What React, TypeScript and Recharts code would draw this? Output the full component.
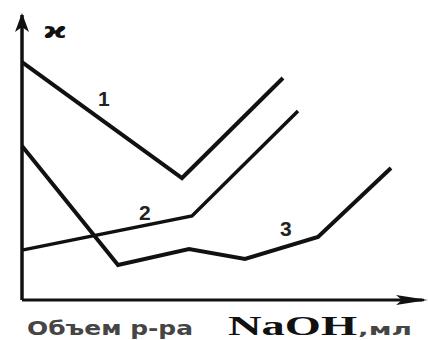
import { LineChart, Line, XAxis, YAxis, ReferenceLine, Customized } from 'recharts'

// Conductometric titration curves: conductivity vs. volume of NaOH added

const curve1X = [0, 40, 65.25]
const curve1Y = [83.5, 42.8, 77.9]

const curve2X = [0, 42.5, 69]
const curve2Y = [17.5, 29.5, 66.3]

const curve3X = [0, 24, 41.75, 55.75, 74, 92.25]
const curve3Y = [54, 12.3, 17.9, 14.4, 22.1, 46.3]

const curveLabels = ['1', '2', '3']

const toPoints = (xs: number[], ys: number[]) => xs.map((x, i) => ({ x, y: ys[i] }))

const INK = '#111'

function Annotations() {
  return (
    <g>
      {/* arrowheads on the axes */}
      <path d="M22,13 L15,32 L22,27 L29,32 Z" fill={INK} />
      <line x1={420} y1={300} x2={424} y2={300} stroke={INK} strokeWidth={2.5} />
      <path d="M428,300 L396,295 L402,300 L396,305 Z" fill={INK} />
      <text x={43} y={38} fontSize={22} fontFamily="DejaVu Sans" fontWeight="bold" fill={INK} textLength={24} lengthAdjust="spacingAndGlyphs">ϰ</text>
      <text x={98} y={106} fontSize={21} fontFamily="Liberation Sans" fontWeight="bold" fill="#222">{curveLabels[0]}</text>
      <text x={139} y={220} fontSize={21} fontFamily="Liberation Sans" fontWeight="bold" fill="#222">{curveLabels[1]}</text>
      <text x={280} y={236} fontSize={21} fontFamily="Liberation Sans" fontWeight="bold" fill="#222">{curveLabels[2]}</text>
      <text x={27} y={335} fontSize={19} fontFamily="DejaVu Sans" fontWeight="bold" fill="#454545" textLength={166} lengthAdjust="spacingAndGlyphs">Объем р-ра</text>
      <text x={228} y={335} fontSize={28} fontFamily="Liberation Serif" fontWeight="bold" fill={INK} textLength={129} lengthAdjust="spacingAndGlyphs">NaOH</text>
      <text x={358} y={335} fontSize={16} fontFamily="DejaVu Sans" fontWeight="bold" fill="#454545" textLength={54} lengthAdjust="spacingAndGlyphs">,мл</text>
    </g>
  )
}

export default function App() {
  return (
    <div style={{ position: 'absolute', left: 0, top: 0, background: '#fff' }}>
      <LineChart width={428} height={340} margin={{ top: 15, right: 6, bottom: 40, left: 22 }}>
        <XAxis type="number" dataKey="x" domain={[0, 100]} hide />
        <YAxis type="number" dataKey="y" domain={[0, 100]} hide />
        <ReferenceLine y={0} stroke={INK} strokeWidth={3} />
        <ReferenceLine x={0} stroke={INK} strokeWidth={3.5} />
        <Line data={toPoints(curve1X, curve1Y)} dataKey="y" type="linear" stroke={INK} strokeWidth={4} dot={false} isAnimationActive={false} />
        <Line data={toPoints(curve2X, curve2Y)} dataKey="y" type="linear" stroke={INK} strokeWidth={3.5} dot={false} isAnimationActive={false} />
        <Line data={toPoints(curve3X, curve3Y)} dataKey="y" type="linear" stroke={INK} strokeWidth={4} dot={false} isAnimationActive={false} />
        <Customized component={Annotations} />
      </LineChart>
    </div>
  )
}
